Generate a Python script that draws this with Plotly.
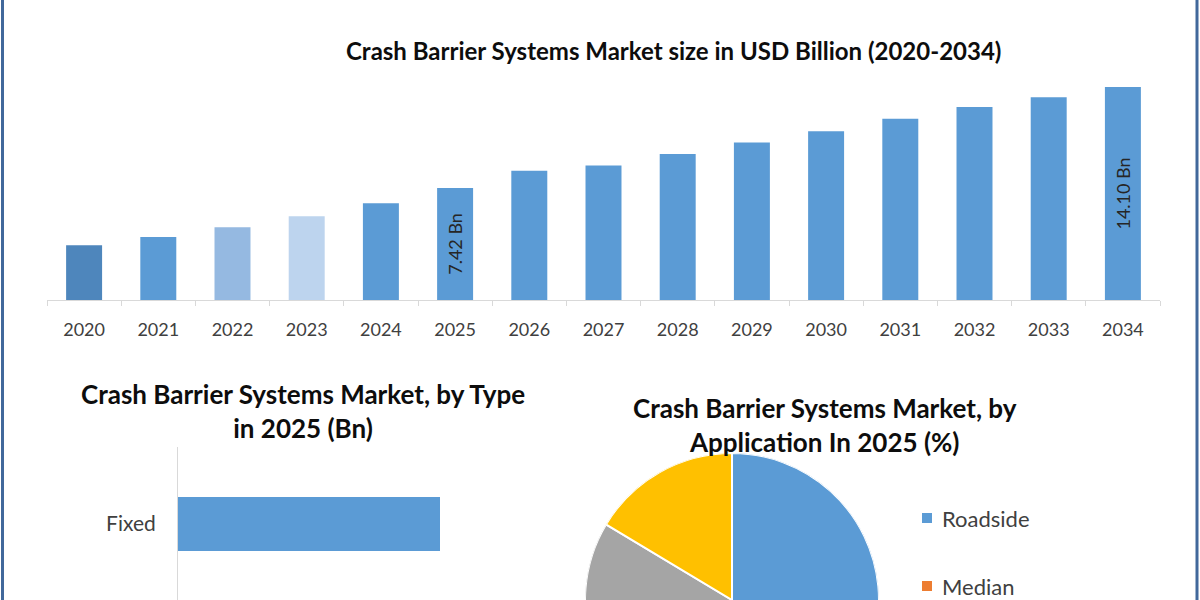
import plotly.graph_objects as go

# ---------------- data ----------------
years = [str(y) for y in range(2020, 2035)]
market_size = [3.62, 4.17, 4.82, 5.55, 6.40, 7.42, 8.55, 8.90, 9.67, 10.42,
               11.17, 12.00, 12.77, 13.42, 14.10]
bar_labels = ["", "", "", "", "", "7.42 Bn", "", "", "", "", "", "", "", "", "14.10 Bn"]
bar_colors = ["#4E86BC", "#5B9BD5", "#95B9E1", "#BDD4EE"] + ["#5B9BD5"] * 11

type_categories = ["Fixed"]
type_values = [4.6]

app_labels = ["Roadside", "Median", "Bridge", "Work Zone"]
app_shares = [47.0, 22.0, 14.6, 16.4]
app_colors = ["#5B9BD5", "#ED7D31", "#A5A5A5", "#FFC000"]

FONT = "Lato"
W, H = 1200, 600


def px(x):
    return x / W


def py(y):
    return 1 - y / H


fig = go.Figure()

# main bar chart
fig.add_trace(go.Bar(
    x=years, y=market_size, marker=dict(color=bar_colors, line=dict(width=0)),
    text=bar_labels, textposition="inside", insidetextanchor="middle",
    textangle=-90, textfont=dict(family=FONT, size=18, color="#262626"),
    xaxis="x", yaxis="y", showlegend=False, hoverinfo="x+y",
))

# type bar chart
fig.add_trace(go.Bar(
    x=type_values, y=type_categories, orientation="h", width=0.54,
    marker=dict(color="#5B9BD5", line=dict(width=0)),
    xaxis="x2", yaxis="y2", showlegend=False,
))

# application pie (as polar wedges)
angles = [s / sum(app_shares) * 360 for s in app_shares]
centers = []
acc = 0
for a in angles:
    centers.append(acc + a / 2)
    acc += a
fig.add_trace(go.Barpolar(
    r=[1] * len(app_labels), theta=centers, width=angles,
    marker=dict(color=app_colors, line=dict(color="white", width=2)),
    text=app_labels, showlegend=False, hoverinfo="text",
))

fig.update_layout(
    width=W, height=H,
    margin=dict(l=0, r=0, t=0, b=0),
    paper_bgcolor="white", plot_bgcolor="white",
    font=dict(family=FONT, color="#404040"),
    bargap=0.515,
    xaxis=dict(
        domain=[px(47), px(1160)], type="category",
        showline=True, linecolor="#D9D9D9", linewidth=1,
        ticks="outside", tickson="boundaries", ticklen=5, tickcolor="#D9D9D9",
        tickfont=dict(family=FONT, size=18, color="#404040"),
        ticklabelstandoff=13, showgrid=False, zeroline=False, fixedrange=True,
    ),
    yaxis=dict(
        domain=[py(300), py(80)], range=[0, 14.56], visible=False,
        showgrid=False, zeroline=False, fixedrange=True,
    ),
    xaxis2=dict(
        domain=[px(178), px(560)], range=[0, 4.6 * 382 / 262], visible=False,
        anchor="y2", showgrid=False, zeroline=False,
    ),
    yaxis2=dict(
        domain=[0, py(447)], anchor="x2", type="category", range=[-0.76, 0.77],
        showline=True, linecolor="#D9D9D9", linewidth=1, ticks="",
        tickfont=dict(family=FONT, size=21, color="#404040"),
        ticklabelstandoff=17, showgrid=False, zeroline=False,
    ),
    polar=dict(
        domain=dict(x=[px(585), px(879)], y=[0, 147 / H]),
        sector=[0, 180], bgcolor="white", hole=0,
        angularaxis=dict(rotation=90, direction="clockwise", visible=False,
                         showgrid=False, showline=False),
        radialaxis=dict(range=[0, 1], visible=False, showgrid=False, showline=False),
    ),
)

annotations = [
    dict(text="<b>Crash Barrier Systems Market size in USD Billion (2020-2034)</b>",
         x=px(673), y=py(50), font=dict(size=24, color="#0D0D0D")),
    dict(text="<b>Crash Barrier Systems Market, by Type<br>in 2025 (Bn)</b>",
         x=px(303), y=py(411), font=dict(size=26, color="#0D0D0D")),
    dict(text="<b>Crash Barrier Systems Market, by<br>Application In 2025 (%)</b>",
         x=px(825), y=py(425), font=dict(size=26, color="#0D0D0D")),
    dict(text="Roadside", x=px(940), y=py(518), xanchor="left",
         font=dict(size=22, color="#404040")),
    dict(text="Median", x=px(940), y=py(586), xanchor="left",
         font=dict(size=22, color="#404040")),
]
for a in annotations:
    a.update(xref="paper", yref="paper", showarrow=False)
    a.setdefault("xanchor", "center")
    a["yanchor"] = "middle"
    a["font"]["family"] = FONT
fig.update_layout(annotations=annotations)

shapes = [
    dict(type="rect", xref="paper", yref="paper", x0=px(2.5), x1=px(1197), y0=-0.1, y1=1.1,
         line=dict(color="#41689B", width=3), fillcolor="rgba(0,0,0,0)"),
    dict(type="rect", xref="paper", yref="paper", x0=px(922), x1=px(932), y0=py(523), y1=py(513),
         line=dict(width=0), fillcolor=app_colors[0]),
    dict(type="rect", xref="paper", yref="paper", x0=px(922), x1=px(932), y0=py(591), y1=py(581),
         line=dict(width=0), fillcolor=app_colors[1]),
]
fig.update_layout(shapes=shapes)

fig.write_html("out.html", config={"displayModeBar": False},
               post_script="document.body.style.margin='0px';")
